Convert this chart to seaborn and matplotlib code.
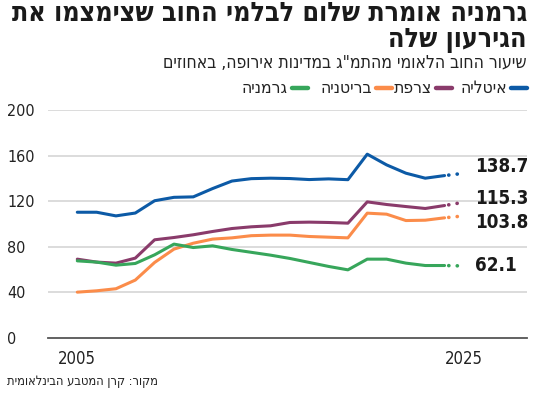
import matplotlib
matplotlib.use("Agg")
import matplotlib.pyplot as plt
import seaborn as sns
import pandas as pd
from matplotlib.lines import Line2D
from matplotlib import font_manager as fm

# ---------------- data ----------------
years = list(range(2005, 2026))
italy =   [110.2, 110.2, 107.0, 109.5, 120.3, 123.3, 123.7, 131.0, 137.6, 139.7, 140.1, 139.8, 138.9, 139.5, 138.8, 161.2, 151.8, 144.5, 140.1, 142.4, 144.4]
france =  [69.0, 66.4, 65.5, 69.9, 86.0, 88.0, 90.4, 93.3, 95.9, 97.4, 98.3, 101.2, 101.5, 101.2, 100.6, 119.3, 117.0, 115.2, 113.5, 116.1, 119.0]
britain = [40.0, 41.2, 43.0, 50.6, 66.1, 77.8, 83.0, 86.6, 87.7, 89.6, 90.1, 90.1, 88.9, 88.3, 87.7, 109.4, 108.5, 102.9, 103.2, 105.3, 107.0]
germany = [67.5, 66.4, 63.7, 65.2, 72.8, 82.2, 79.2, 80.7, 77.5, 75.0, 72.5, 69.6, 66.1, 62.6, 59.6, 69.0, 69.0, 65.5, 63.4, 63.4, 63.0]
end_labels = ["138.7", "115.3", "103.8", "62.1"]
countries = ["איטליה", "צרפת", "בריטניה", "גרמניה"]
colors = ["#0c5aa6", "#8a3b6b", "#fb8c4a", "#37a65b"]
yticks = [0, 40, 80, 120, 160, 200]
xticks = [2005, 2025]

title_lines = ["גרמניה אומרת שלום לבלמי החוב שצימצמו את", "הגירעון שלה"]
subtitle = 'שיעור החוב הלאומי מהתמ"ג במדינות אירופה, באחוזים'
source = "מקור: קרן המטבע הבינלאומית"


def vis(s):
    # matplotlib has no bidi support: reverse Hebrew to visual order
    return s[::-1]


series = [italy, france, britain, germany]
df = pd.DataFrame({
    "year": years * 4,
    "value": italy + france + britain + germany,
    "country": [c for c in countries for _ in years],
})
solid = df[df["year"] <= 2024]
proj = df[df["year"] >= 2024]

# ---------------- fonts ----------------
sns.set_theme(style="white")
plt.rcParams["font.family"] = ["DejaVu Sans"]


def find_font(fname):
    for f in fm.fontManager.ttflist:
        if f.fname.endswith("/" + fname):
            return f.fname
    return None


reg_path = find_font("DejaVuSansCondensed.ttf")
bold_path = find_font("DejaVuSansCondensed-Bold.ttf")


def fp(bold=False, size=10):
    path = bold_path if bold else reg_path
    if path:
        return fm.FontProperties(fname=path, size=size)
    return fm.FontProperties(family="DejaVu Sans", weight="bold" if bold else "normal",
                             stretch="condensed", size=size)


W, H = 550, 397
fig = plt.figure(figsize=(W / 100, H / 100), dpi=100)
renderer = fig.canvas.get_renderer()


def fit_text(x, y, s, target_w, bold, size0, **kw):
    t = fig.text(x, y, s, fontproperties=fp(bold, size0), **kw)
    w = t.get_window_extent(renderer).width
    t.set_fontproperties(fp(bold, size0 * target_w / w))
    return t


ax = fig.add_axes([48 / W, (H - 337.7) / H, 479 / W, (337.7 - 110) / H])

palette = dict(zip(countries, colors))
sns.lineplot(data=solid, x="year", y="value", hue="country", palette=palette,
             linewidth=2.2, ax=ax, legend=False, clip_on=False,
             solid_capstyle="round", solid_joinstyle="round")
for c in countries:
    sub = proj[proj["country"] == c]
    sns.lineplot(data=sub, x="year", y="value", color=palette[c], ax=ax,
                 legend=False, linewidth=2.6, linestyle=(1.2, (0.05, 2.3)),
                 dash_capstyle="round", clip_on=False)

ax.set_xlim(2005 - 29.3 / 19.33, 2005 + 449.7 / 19.33)
ax.set_ylim(0, 200)

for yv in yticks[1:]:
    ax.axhline(yv, color="#d9d9d9", linewidth=1.3, zorder=0)
for s in ["top", "right", "left"]:
    ax.spines[s].set_visible(False)
ax.spines["bottom"].set_color("#555555")
ax.spines["bottom"].set_linewidth(1.3)

ax.set_yticks(yticks)
ax.set_yticklabels([str(v) for v in yticks])
ax.tick_params(axis="y", length=0, pad=29.5, labelcolor="#222222")
for lab in ax.get_yticklabels():
    lab.set_horizontalalignment("left")
    lab.set_fontproperties(fp(False, 11.5))

ax.set_xticks(xticks)
ax.set_xticklabels([str(v) for v in xticks])
ax.tick_params(axis="x", direction="inout", length=8, width=1.2, color="#555555",
               pad=4.5, labelcolor="#222222")
for lab in ax.get_xticklabels():
    lab.set_fontproperties(fp(False, 12))
ax.set_xlabel("")
ax.set_ylabel("")

# end labels
offsets = [5, 3, -5, 0]
for vals, lab, off in zip(series, end_labels, offsets):
    ax.annotate(lab, xy=(years[-1], vals[-1]), xytext=(8, off), textcoords="offset points",
                ha="left", va="center", fontproperties=fp(True, 13.5), color="#1a1a1a",
                annotation_clip=False)

# titles
fit_text(527 / W, 1 - 14 / H, vis(title_lines[0]), 517, True, 18,
         ha="right", va="center", color="#1a1a1a")
t0 = fig.texts[-1]
fig.text(527 / W, 1 - 40 / H, vis(title_lines[1]), ha="right", va="center",
         fontproperties=t0.get_fontproperties(), color="#1a1a1a")
fit_text(527 / W, 1 - 63 / H, vis(subtitle), 365, False, 12,
         ha="right", va="center", color="#222222")

# legend (right to left: marker to the right of its label)
marker_right = [527, 452, 392, 308]
for c, col, mr in zip(countries, colors, marker_right):
    yy = 1 - 88 / H
    fig.add_artist(Line2D([(mr - 16) / W, mr / W], [yy, yy], color=col, linewidth=3.2,
                          solid_capstyle="round", transform=fig.transFigure))
    fig.text((mr - 20) / W, yy, vis(c), ha="right", va="center",
             fontproperties=fp(False, 12.5), color="#222222")

fit_text(7 / W, 1 - 382 / H, vis(source), 151, False, 10,
         ha="left", va="center", color="#222222")

fig.savefig("out.png", dpi=100)
